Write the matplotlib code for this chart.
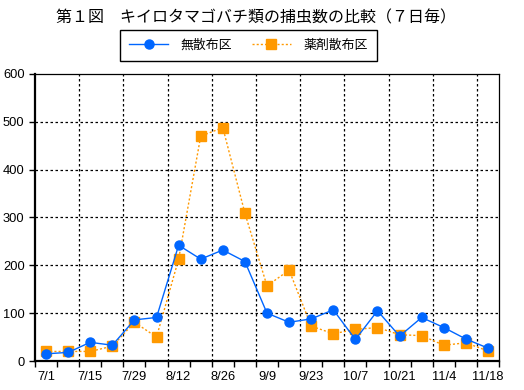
#!/usr/bin/env python3

import matplotlib
matplotlib.use("Agg")
import matplotlib.pyplot as plt
from matplotlib.lines import Line2D
import numpy as np

plt.rcParams['font.family'] = ['Noto Sans CJK JP', 'DejaVu Sans']

# weekly dates, 7/1 .. 11/18
dates = ["7/1", "7/8", "7/15", "7/22", "7/29", "8/5", "8/12", "8/19", "8/26",
         "9/2", "9/9", "9/16", "9/23", "9/30", "10/7", "10/14", "10/21",
         "10/28", "11/4", "11/11", "11/18"]
untreated = [15, 18, 39, 33, 86, 91, 242, 213, 232, 208, 100, 81, 88, 107,
             45, 105, 52, 91, 70, 46, 27]
treated = [20, 20, 20, 31, 81, 50, 213, 470, 488, 309, 157, 190, 73, 57,
           66, 70, 55, 53, 33, 38, 21]

title = "第１図　キイロタマゴバチ類の捕虫数の比較（７日毎）"
label_untreated = "無散布区"
label_treated = "薬剤散布区"
y_ticks = [0, 100, 200, 300, 400, 500, 600]

blue = "#0066ff"
orange = "#ff9900"


def main():
    fig = plt.figure(figsize=(5.24, 3.90), dpi=100)
    ax = fig.add_axes([35 / 524, 29 / 390, 464 / 524, 287 / 390])

    x = np.arange(len(dates))
    ax.plot(x, untreated, color=blue, lw=1.0, marker="o", ms=6.5,
            mec=blue, mfc=blue, zorder=4)
    ax.plot(x, treated, color=orange, lw=1.0, ls=(0, (1.5, 1.5)), marker="s",
            ms=7, mec=orange, mfc=orange, zorder=3)

    ax.set_xlim(-0.5, len(dates) - 0.5)
    ax.set_ylim(0, 600)

    # category axis: labels every other week, ticks at boundaries
    ax.set_xticks(x[::2])
    ax.set_xticklabels(dates[::2])
    ax.tick_params(axis="x", length=0, pad=7)
    ax.set_xticks(np.arange(-0.5, len(dates)), minor=True)
    ax.tick_params(axis="x", which="minor", length=4, width=1, direction="out")
    for b in np.arange(1.5, len(dates) - 1, 2):
        ax.axvline(b, color="black", lw=0.9, ls=(0, (2, 2)), zorder=1)

    ax.set_yticks(y_ticks)
    ax.tick_params(axis="y", length=4, width=1, direction="out")
    for v in y_ticks[1:-1]:
        ax.axhline(v, color="black", lw=0.9, ls=(0, (2, 2)), zorder=1)

    for lab in ax.get_xticklabels() + ax.get_yticklabels():
        lab.set_fontsize(9.3)
        lab.set_family(["Liberation Sans", "DejaVu Sans"])

    ax.spines["left"].set_linewidth(1.6)
    ax.spines["bottom"].set_linewidth(1.6)
    ax.spines["top"].set_linewidth(0.9)
    ax.spines["right"].set_linewidth(0.9)

    fig.text(256 / 524, 372 / 390, title, ha="center", va="center",
             fontsize=11.5)

    handles = [
        Line2D([], [], color=blue, lw=1.0, marker="o", ms=6.5, mfc=blue, mec=blue),
        Line2D([], [], color=orange, lw=1.0, ls=(0, (1.5, 1.5)), marker="s",
               ms=7, mfc=orange, mec=orange),
    ]
    leg = fig.legend(handles, [label_untreated, label_treated], loc="center",
                     bbox_to_anchor=(248.5 / 524, 344.5 / 390), ncol=2,
                     fontsize=9.3, handlelength=3.0, handletextpad=1.0,
                     columnspacing=1.5, fancybox=False, framealpha=1,
                     borderpad=0.7)
    leg.get_frame().set_edgecolor("black")
    leg.get_frame().set_linewidth(1.0)

    fig.savefig("out.png", dpi=100)


if __name__ == "__main__":
    main()
